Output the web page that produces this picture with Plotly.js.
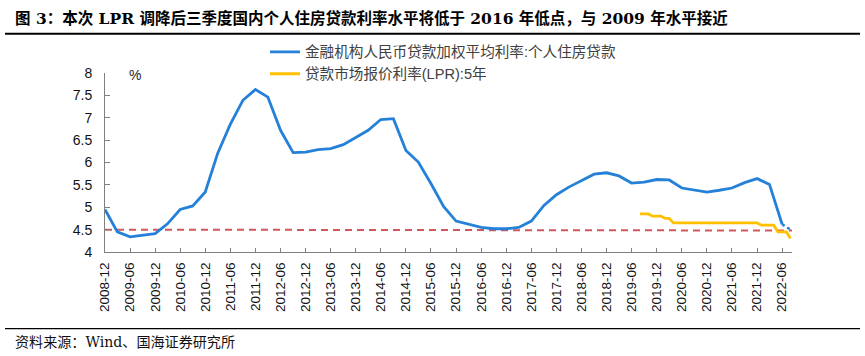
<!DOCTYPE html>
<html>
<head>
<meta charset="utf-8">
<script src="https://cdn.plot.ly/plotly-3.0.1.min.js"></script>
<style>
  html, body { margin: 0; padding: 0; background: #fff; }
  #chart { width: 865px; height: 356px; }
</style>
</head>
<body>
<div id="chart"></div>
<script>
// Quarterly weighted average rate on personal housing loans (%)
const quarterDates = [
  "2008-12-01","2009-03-01","2009-06-01","2009-09-01","2009-12-01",
  "2010-03-01","2010-06-01","2010-09-01","2010-12-01",
  "2011-03-01","2011-06-01","2011-09-01","2011-12-01",
  "2012-03-01","2012-06-01","2012-09-01","2012-12-01",
  "2013-03-01","2013-06-01","2013-09-01","2013-12-01",
  "2014-03-01","2014-06-01","2014-09-01","2014-12-01",
  "2015-03-01","2015-06-01","2015-09-01","2015-12-01",
  "2016-03-01","2016-06-01","2016-09-01","2016-12-01",
  "2017-03-01","2017-06-01","2017-09-01","2017-12-01",
  "2018-03-01","2018-06-01","2018-09-01","2018-12-01",
  "2019-03-01","2019-06-01","2019-09-01","2019-12-01",
  "2020-03-01","2020-06-01","2020-09-01","2020-12-01",
  "2021-03-01","2021-06-01","2021-09-01","2021-12-01",
  "2022-03-01","2022-06-01"
];
const housingRate = [
  4.95, 4.45, 4.34, 4.37, 4.41,
  4.63, 4.95, 5.03, 5.34,
  6.20, 6.85, 7.39, 7.63,
  7.46, 6.72, 6.22, 6.23,
  6.29, 6.31, 6.40, 6.56,
  6.72, 6.96, 6.98, 6.27,
  6.01, 5.53, 5.02, 4.69,
  4.62, 4.55, 4.52, 4.52,
  4.55, 4.69, 5.04, 5.28,
  5.45, 5.60, 5.74, 5.77,
  5.70, 5.54, 5.56, 5.62,
  5.61, 5.43, 5.38, 5.34,
  5.38, 5.43, 5.55, 5.64,
  5.51, 4.62
];
// Projected continuation (dotted)
const projDates = ["2022-06-01", "2022-08-01"];
const projRate = [4.62, 4.50];

// Monthly 5-year LPR (%)
const lprDates = [
  "2019-08-01","2019-09-01","2019-10-01","2019-11-01","2019-12-01",
  "2020-01-01","2020-02-01","2020-03-01","2020-04-01","2020-05-01","2020-06-01",
  "2020-07-01","2020-08-01","2020-09-01","2020-10-01","2020-11-01","2020-12-01",
  "2021-01-01","2021-02-01","2021-03-01","2021-04-01","2021-05-01","2021-06-01",
  "2021-07-01","2021-08-01","2021-09-01","2021-10-01","2021-11-01","2021-12-01",
  "2022-01-01","2022-02-01","2022-03-01","2022-04-01","2022-05-01","2022-06-01",
  "2022-07-01","2022-08-01"
];
const lpr5y = [
  4.85, 4.85, 4.85, 4.80, 4.80,
  4.80, 4.75, 4.75, 4.65, 4.65, 4.65,
  4.65, 4.65, 4.65, 4.65, 4.65, 4.65,
  4.65, 4.65, 4.65, 4.65, 4.65, 4.65,
  4.65, 4.65, 4.65, 4.65, 4.65, 4.65,
  4.60, 4.60, 4.60, 4.60, 4.45, 4.45,
  4.45, 4.30
];

// Reference level (dashed)
const refDates = ["2008-12-01", "2022-08-12"];
const refLevel = [4.50, 4.48];

const titleText = "图 3：本次 LPR 调降后三季度国内个人住房贷款利率水平将低于 2016 年低点，与 2009 年水平接近";
const sourceText = "资料来源：Wind、国海证券研究所";
const name1 = "金融机构人民币贷款加权平均利率:个人住房贷款";
const name2 = "贷款市场报价利率(LPR):5年";

const W = 865, H = 356;
const L = 105, R = 792, T = 72.7, B = 251.7;
const px = x => (x - L) / (R - L);
const py = y => (B - y) / (B - T);

const serifCJK = "'DejaVu Serif', 'Noto Sans CJK SC', serif";
const sans = "'Liberation Sans', 'Noto Sans CJK SC', Arial, sans-serif";

const traces = [
  {
    x: refDates, y: refLevel, type: "scatter", mode: "lines",
    line: { color: "#d0585a", width: 2, dash: "7px,5px" },
    showlegend: false, hoverinfo: "skip"
  },
  {
    x: quarterDates, y: housingRate, type: "scatter", mode: "lines",
    name: name1,
    line: { color: "#2580d8", width: 2.8 }
  },
  {
    x: projDates, y: projRate, type: "scatter", mode: "lines",
    line: { color: "#2580d8", width: 2.5, dash: "dot" },
    showlegend: false
  },
  {
    x: lprDates, y: lpr5y, type: "scatter", mode: "lines",
    name: name2,
    line: { color: "#ffc000", width: 2.8 }
  }
];

const layout = {
  width: W, height: H,
  paper_bgcolor: "#fff", plot_bgcolor: "#fff",
  margin: { l: L, r: W - R, t: T, b: H - B, pad: 0 },
  title: {
    text: "<b>" + titleText + "</b>",
    xref: "container", yref: "container",
    x: 15 / W, xanchor: "left",
    y: 1 - 19 / H, yanchor: "middle",
    font: { family: serifCJK, size: 15.5, color: "#000" }
  },
  showlegend: true,
  legend: {
    x: px(265), xanchor: "left",
    y: py(35.5), yanchor: "top",
    bgcolor: "rgba(0,0,0,0)",
    font: { family: sans, size: 14.6, color: "#404040" },
    itemwidth: 30,
    tracegroupgap: 0
  },
  xaxis: {
    type: "date",
    range: ["2008-12-01", "2022-08-12"],
    tick0: "2008-12-01", dtick: "M6",
    tickformat: "%Y-%m",
    tickangle: -90,
    ticks: "inside", ticklen: 4, tickcolor: "#808080", tickwidth: 1,
    showline: true, linecolor: "#808080", linewidth: 1,
    showgrid: false, zeroline: false,
    ticklabelstandoff: 4,
    tickfont: { family: sans, size: 13.5, color: "#111" }
  },
  yaxis: {
    range: [4, 8], dtick: 0.5, tick0: 4,
    ticks: "inside", ticklen: 5, tickcolor: "#808080", tickwidth: 1,
    showline: true, linecolor: "#808080", linewidth: 1,
    showgrid: false, zeroline: false,
    ticklabelstandoff: 9,
    tickfont: { family: sans, size: 14, color: "#111" }
  },
  annotations: [
    {
      text: "%", xref: "paper", yref: "paper",
      x: px(135), y: py(75), xanchor: "center", yanchor: "middle",
      showarrow: false,
      font: { family: sans, size: 14, color: "#222" }
    },
    {
      text: sourceText, xref: "paper", yref: "paper",
      x: px(13), y: py(342), xanchor: "left", yanchor: "middle",
      showarrow: false,
      font: { family: serifCJK, size: 14.1, color: "#111" }
    }
  ],
  shapes: [
    {
      type: "line", xref: "paper", yref: "paper",
      x0: px(5), x1: px(860), y0: py(33.5), y1: py(33.5),
      line: { color: "#000", width: 2 }
    },
    {
      type: "line", xref: "paper", yref: "paper",
      x0: px(5), x1: px(860), y0: py(328.3), y1: py(328.3),
      line: { color: "#000", width: 1.3 }
    }
  ]
};

Plotly.newPlot("chart", traces, layout, { displayModeBar: false, staticPlot: true });
</script>
</body>
</html>
